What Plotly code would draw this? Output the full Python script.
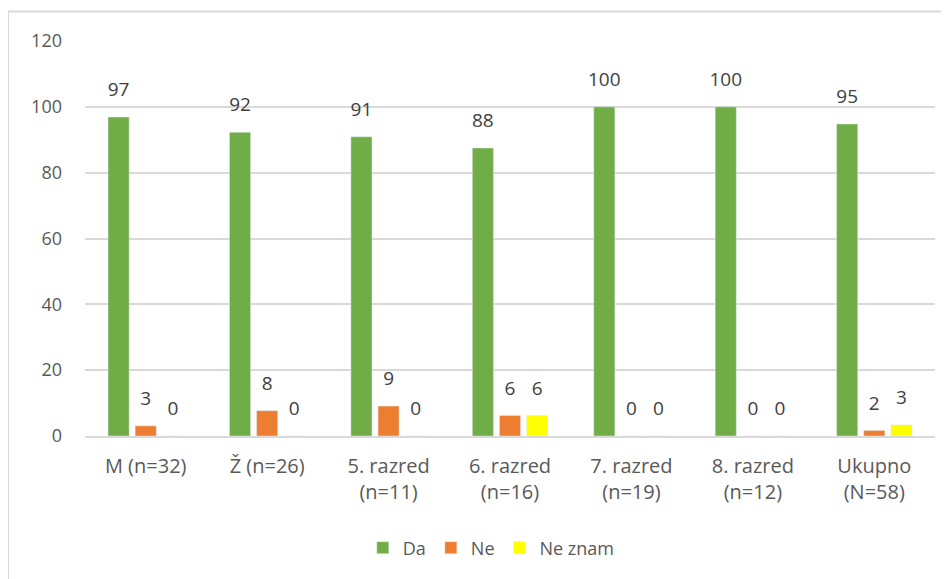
import plotly.graph_objects as go

categories = ["M (n=32)", "Ž (n=26)", "5. razred<br>(n=11)", "6. razred<br>(n=16)",
              "7. razred<br>(n=19)", "8. razred<br>(n=12)", "Ukupno<br>(N=58)"]
da = [96.9, 92.3, 90.9, 87.5, 100, 100, 94.8]
ne = [3.1, 7.7, 9.1, 6.25, 0, 0, 1.7]
ne_znam = [0, 0, 0, 6.25, 0, 0, 3.4]
y_ticks = [0, 20, 40, 60, 80, 100, 120]

series = [("Da", da, "#70AD47"), ("Ne", ne, "#ED7D31"), ("Ne znam", ne_znam, "#FFFF00")]

fig = go.Figure()
for name, vals, color in series:
    fig.add_trace(go.Bar(x=categories, y=vals, name=name, marker_color=color,
                         offsetgroup=name, hoverinfo="skip"))

# data labels: invisible markers push the text up like Excel's label gap
for name, vals, color in series:
    fig.add_trace(go.Scatter(
        x=categories, y=vals, mode="markers+text", offsetgroup=name,
        marker=dict(size=24, opacity=0), showlegend=False, cliponaxis=False,
        text=[f"{v:.0f}" for v in vals], textposition="top center",
        textfont=dict(size=19, color="#404040"), hoverinfo="skip",
    ))

fig.update_layout(
    width=949, height=579,
    margin=dict(l=77, r=22, t=33, b=151, autoexpand=False),
    plot_bgcolor="white", paper_bgcolor="white",
    font=dict(family="Open Sans, Liberation Sans, sans-serif", size=18, color="#595959"),
    barmode="group", bargap=0.33, bargroupgap=0.22,
    scattermode="group", scattergap=0.33,
    legend=dict(orientation="h", x=0.478, xanchor="center", y=-0.2835, yanchor="middle",
                font=dict(size=18, color="#595959"), itemwidth=30),
)
fig.update_yaxes(range=[0, 120], tickvals=y_ticks, showgrid=True, gridcolor="#D9D9D9",
                 gridwidth=1.5, zeroline=False, ticks="", showline=False,
                 tickfont=dict(size=18), ticklabelstandoff=22, automargin=False)
fig.update_xaxes(showline=True, linecolor="#D9D9D9", linewidth=1.5, ticks="",
                 tickfont=dict(size=20), ticklabelstandoff=11, automargin=False)

# outer chart frame (only its top and left edges fall inside the picture)
fig.add_shape(type="rect", xref="paper", yref="paper",
              x0=-0.0906, x1=1.1, y0=-0.45, y1=1.0747,
              line=dict(color="#D9D9D9", width=2), fillcolor="rgba(0,0,0,0)")

fig.write_html("out.html")
